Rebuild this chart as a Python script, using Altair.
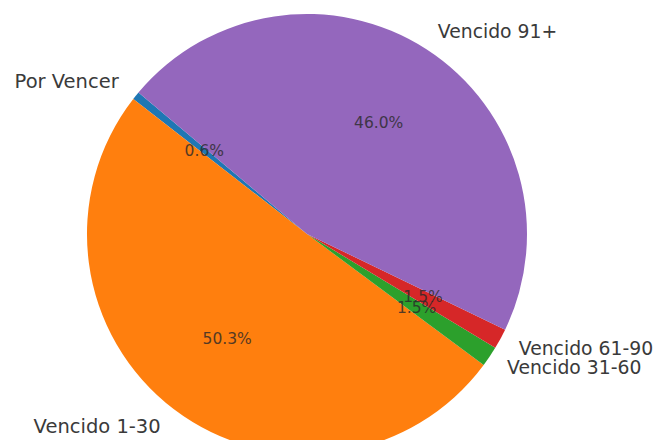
import math
import altair as alt
import pandas as pd

categories = ["Por Vencer", "Vencido 1-30", "Vencido 31-60", "Vencido 61-90", "Vencido 91+"]
values = [0.6, 50.3, 1.5, 1.5, 46.0]
colors = ["#1f77b4", "#ff7f0e", "#2ca02c", "#d62728", "#9467bd"]
right_side = ["Vencido 31-60", "Vencido 61-90", "Vencido 91+"]

df = pd.DataFrame({
    "cat": categories,
    "value": values,
    "idx": list(range(len(categories))),
    "pct": [f"{v:.1f}%" for v in values],
})

start = math.radians(-50)
theta_scale = alt.Scale(range=[start, start + 2 * math.pi])

cx, cy, R = 299, 226, 220

base = alt.Chart(df).encode(
    theta=alt.Theta("value:Q", stack=True, scale=theta_scale),
    order=alt.Order("idx:Q", sort="descending"),
)

pie = base.mark_arc(radius=R, strokeWidth=0).encode(
    x=alt.value(cx), y=alt.value(cy),
    color=alt.Color("cat:N", scale=alt.Scale(domain=categories, range=colors), legend=None),
)

side_expr = "indexof(" + str(right_side) + ", datum.cat) >= 0"

lab_left = base.transform_calculate(
    lab=f"{side_expr} ? datum.cat : ''"
).mark_text(radius=R * 1.095, align="left", baseline="middle", font="DejaVu Sans",
            fontSize=18.8, color="#3a3a3a").encode(
    x=alt.value(cx), y=alt.value(cy), text="lab:N")

lab_right = base.transform_calculate(
    lab=f"{side_expr} ? '' : datum.cat"
).mark_text(radius=R * 1.1, align="right", baseline="middle", font="DejaVu Sans",
            fontSize=19.5, color="#3a3a3a").encode(
    x=alt.value(cx), y=alt.value(cy), text="lab:N")

pct = base.mark_text(radius=R * 0.6, align="center", baseline="middle", font="DejaVu Sans",
                     fontSize=15.5, color="#2a2a2a", opacity=0.8).encode(
    x=alt.value(cx), y=alt.value(cy), text="pct:N")

chart = alt.layer(pie, pct, lab_left, lab_right).properties(
    width=647, height=432, padding=0,
    autosize=alt.AutoSizeParams(type="none"),
).configure_view(stroke=None)

chart.save("out.html", embed_options={"renderer": "svg", "actions": False})
